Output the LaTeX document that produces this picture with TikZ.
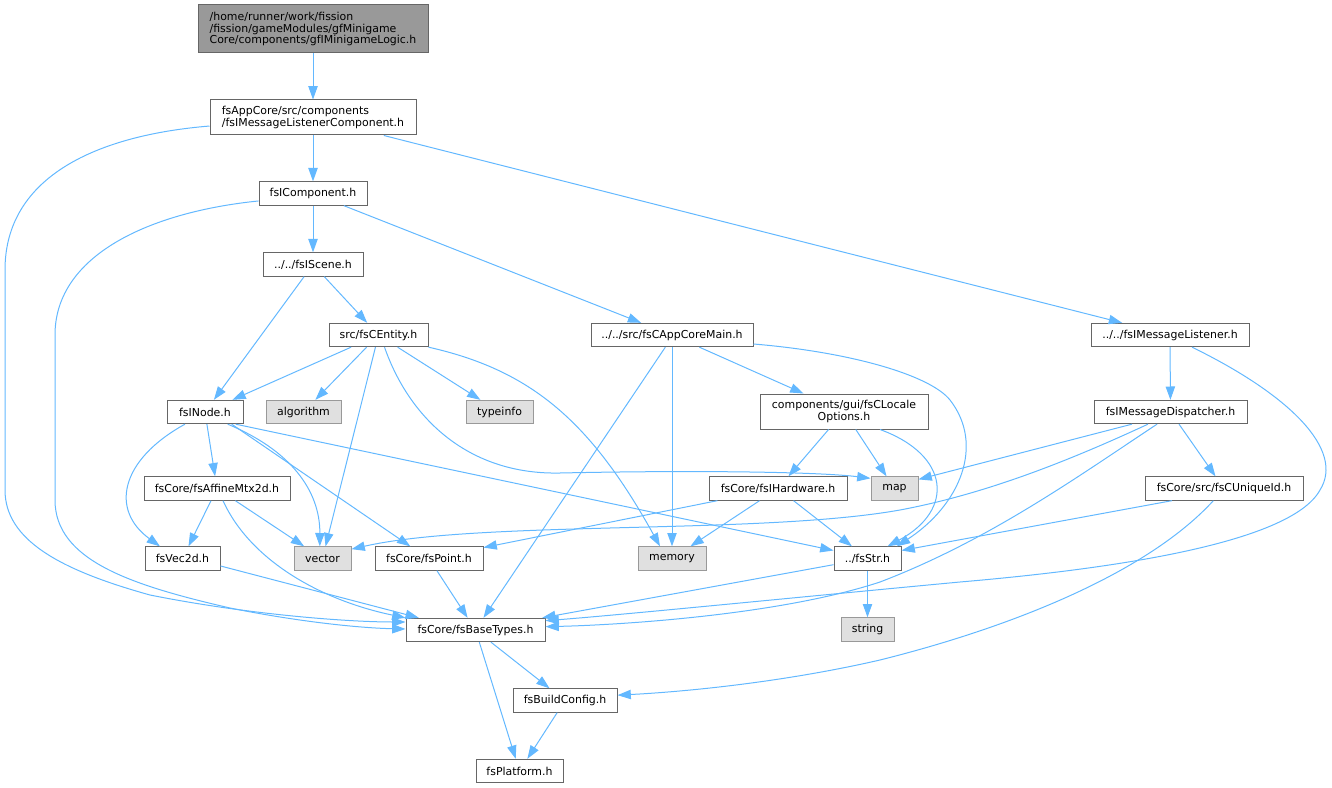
\documentclass[tikz,border=0pt]{standalone}
\usepackage{fontspec}
\setmainfont{DejaVu Sans}
\usetikzlibrary{arrows.meta}
\definecolor{edgeblue}{HTML}{63B8FF}
\definecolor{boxline}{HTML}{666666}
\definecolor{extline}{HTML}{999999}
\definecolor{extfill}{HTML}{E0E0E0}
\definecolor{topfill}{HTML}{999999}
\begin{document}
\begin{tikzpicture}[x=0.75pt,y=-0.75pt,>={Triangle[length=10pt,width=7pt]},
	file/.style={draw=boxline,fill=white,line width=0.75pt,inner sep=0pt,minimum height=17.5pt,font=\fontsize{8.2}{8.9}\selectfont},
	sysfile/.style={file,draw=extline,fill=extfill},
	incl/.style={->,draw=edgeblue,line width=0.75pt}]
		\useasboundingbox (0,0) rectangle (1332,788);
		\node[file,fill=topfill,minimum width=172.5pt,minimum height=36pt,align=left] (logic) at (313,29) {/home/runner/work/fission\\/fission/gameModules/gfMinigame\\Core/components/gfIMinigameLogic.h};
		\node[file,minimum width=154.5pt,minimum height=26.25pt,align=left] (msgcomp) at (313,117.5) {fsAppCore/src/components\\/fsIMessageListenerComponent.h};
		\node[file,minimum width=81pt] (component) at (313,193.5) {fsIComponent.h};
		\node[file,minimum width=75pt] (scene) at (313,264.5) {../../fsIScene.h};
		\node[file,minimum width=74.25pt] (entity) at (378.5,335) {src/fsCEntity.h};
		\node[file,minimum width=121.5pt] (appmain) at (672,335) {../../src/fsCAppCoreMain.h};
		\node[file,minimum width=118.5pt] (listener) at (1170,335) {../../fsIMessageListener.h};
		\node[file,minimum width=57pt] (inode) at (205,412) {fsINode.h};
		\node[sysfile,minimum width=56.25pt] (algorithm) at (303.5,412) {algorithm};
		\node[sysfile,minimum width=50.25pt] (typeinfo) at (499.5,412) {typeinfo};
		\node[file,minimum width=126pt,minimum height=26.25pt,align=center] (locale) at (844,411.5) {components/gui/fsCLocale\\Options.h};
		\node[file,minimum width=114.75pt] (dispatcher) at (1170.5,412) {fsIMessageDispatcher.h};
		\node[file,minimum width=109.5pt] (affine) at (217,488.5) {fsCore/fsAffineMtx2d.h};
		\node[file,minimum width=103.5pt] (hardware) at (778,488.5) {fsCore/fsIHardware.h};
		\node[sysfile,minimum width=35.25pt] (map) at (894.5,488.5) {map};
		\node[file,minimum width=118.5pt] (uniqueid) at (1224,488.5) {fsCore/src/fsCUniqueId.h};
		\node[file,minimum width=56.25pt] (vec2d) at (182.5,558.5) {fsVec2d.h};
		\node[sysfile,minimum width=42.75pt] (vector) at (322.5,558.5) {vector};
		\node[file,minimum width=81pt] (point) at (429,558.5) {fsCore/fsPoint.h};
		\node[sysfile,minimum width=51pt] (memory) at (672,558.5) {memory};
		\node[file,minimum width=50.25pt] (str) at (867.5,558.5) {../fsStr.h};
		\node[sysfile,minimum width=39.75pt] (stringh) at (867.5,629.5) {string};
		\node[file,minimum width=104.25pt] (basetypes) at (475.5,630) {fsCore/fsBaseTypes.h};
		\node[file,minimum width=78pt] (buildcfg) at (565,700.5) {fsBuildConfig.h};
		\node[file,minimum width=65.25pt] (platform) at (519.5,771) {fsPlatform.h};
		\draw[incl] (logic) -- (msgcomp);
		\draw[incl] (msgcomp) -- (component);
		\draw[incl] ([yshift=-6.4pt]msgcomp.west) .. controls (100,135) and (5,175) .. (5,270) -- (5,490) .. controls (5,540) and (60,570) .. (150,595) .. controls (250,615) and (350,622) .. ([yshift=6pt]basetypes.west);
		\draw[incl] (msgcomp) -- (listener);
		\draw[incl] (component) -- (scene);
		\draw[incl] ([yshift=-5.6pt]component.west) .. controls (150,212) and (55,255) .. (55,335) -- (55,500) .. controls (55,560) and (130,585) .. (230,608) .. controls (300,622) and (360,628) .. ([yshift=0.75pt]basetypes.west);
		\draw[incl] (component) -- (appmain);
		\draw[incl] (scene) -- (inode);
		\draw[incl] (scene) -- (entity);
		\draw[incl] (entity) -- (inode);
		\draw[incl] (entity) -- (algorithm);
		\draw[incl] (entity) -- (typeinfo);
		\draw[incl] (entity) -- (vector);
		\draw[incl] (entity.south east) .. controls (530,370) and (590,420) .. ([xshift=-9pt]memory.north);
		\draw[incl] ([xshift=4.5pt]entity.south) .. controls (410,420) and (470,475) .. (560,473) .. controls (700,470) and (820,472) .. ([yshift=-1.5pt]map.north west);
		\draw[incl] ([xshift=-15pt]inode.south) .. controls (120,460) and (110,510) .. ([xshift=-16.9pt]vec2d.north);
		\draw[incl] (inode) -- (affine);
		\draw[incl] ([xshift=17pt]inode.south) .. controls (290,450) and (320,490) .. ([xshift=-2pt]vector.north);
		\draw[incl] ([xshift=20pt]inode.south) -- ([xshift=-14pt]point.north);
		\draw[incl] ([xshift=23pt]inode.south) -- ([yshift=6pt]str.west);
		\draw[incl] (affine) -- (vec2d);
		\draw[incl] (affine) -- (vector);
		\draw[incl] ([xshift=4.5pt]affine.south) .. controls (250,560) and (320,600) .. (basetypes.north west);
		\draw[incl] ([yshift=-5.6pt]vec2d.east) -- ([xshift=10pt]basetypes.north west);
		\draw[incl] (point) -- (basetypes);
		\draw[incl] ([xshift=-5pt]appmain.south) -- ([xshift=6pt]basetypes.north);
		\draw[incl] (appmain) -- (memory);
		\draw[incl] (appmain) -- (locale);
		\draw[incl] ([yshift=-6.75pt]appmain.east) .. controls (850,352) and (930,375) .. (950,400) .. controls (985,445) and (960,505) .. ([xshift=22pt]str.north);
		\draw[incl] (locale) -- (hardware);
		\draw[incl] (locale) -- (map);
		\draw[incl] ([xshift=27pt]locale.south) .. controls (950,455) and (955,510) .. ([xshift=15pt]str.north);
		\draw[incl] (hardware) -- (point);
		\draw[incl] (hardware) -- (memory);
		\draw[incl] (hardware) -- (str);
		\draw[incl] (listener) -- (dispatcher);
		\draw[incl] ([xshift=16.5pt]listener.south) .. controls (1290,395) and (1345,450) .. (1320,490) .. controls (1290,545) and (1100,570) .. (960,582) .. controls (800,597) and (620,615) .. ([yshift=7pt]basetypes.east);
		\draw[incl] ([xshift=-28.9pt]dispatcher.south) -- ([yshift=-2.3pt]map.north east);
		\draw[incl] ([xshift=-16.9pt]dispatcher.south) .. controls (1060,465) and (980,495) .. (900,510) .. controls (760,535) and (480,520) .. ([yshift=7pt]vector.east);
		\draw[incl] ([xshift=-10.1pt]dispatcher.south) .. controls (1080,475) and (990,540) .. (880,582) .. controls (780,615) and (620,625) .. ([yshift=2.5pt]basetypes.east);
		\draw[incl] (dispatcher) -- (uniqueid);
		\draw[incl] ([xshift=-39pt]uniqueid.south) -- ([yshift=6pt]str.east);
		\draw[incl] ([xshift=-8pt]uniqueid.south) .. controls (1150,570) and (1020,625) .. (880,660) .. controls (780,683) and (680,692) .. ([yshift=4pt]buildcfg.east);
		\draw[incl] (str) -- (basetypes);
		\draw[incl] (str) -- (stringh);
		\draw[incl] (basetypes) -- (buildcfg);
		\draw[incl] (basetypes) -- (platform);
		\draw[incl] (buildcfg) -- (platform);
\end{tikzpicture}
\end{document}
